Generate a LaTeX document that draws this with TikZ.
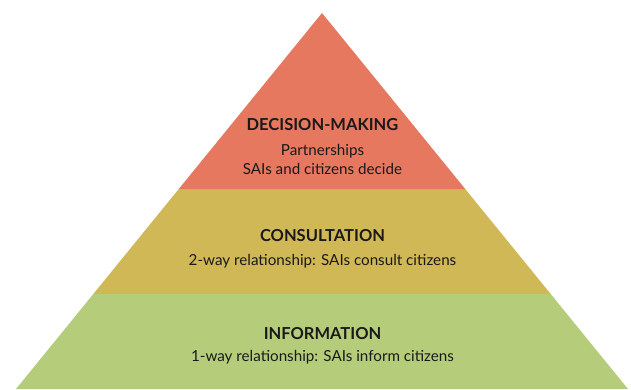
\documentclass[tikz,border=0pt]{standalone}
\usepackage{fontspec}
\setmainfont{Lato}
\usetikzlibrary{calc}
\definecolor{topband}{HTML}{E5785E}
\definecolor{midband}{HTML}{D1B856}
\definecolor{lowband}{HTML}{B5CD7B}
\definecolor{ink}{HTML}{1A1A1A}
\tikzset{
  band/.style={draw=none},
  heading/.style={anchor=base, inner sep=0pt, text=ink, font=\fontsize{16.5}{19}\selectfont\bfseries},
  caption/.style={anchor=base, inner sep=0pt, text=ink, font=\fontsize{15.2}{18}\selectfont}
}
\begin{document}
\begin{tikzpicture}[x=1pt, y=-1pt]
  \useasboundingbox (0,0) rectangle (631,389);
  % outline of the pyramid
  \coordinate (apex) at (322,13);
  \coordinate (bl) at (16,389);
  \coordinate (br) at (628,389);
  % band boundaries along the two sides
  \coordinate (l1) at ($(apex)!0.4681!(bl)$);
  \coordinate (r1) at ($(apex)!0.4681!(br)$);
  \coordinate (l2) at ($(apex)!0.7473!(bl)$);
  \coordinate (r2) at ($(apex)!0.7473!(br)$);
  % bands
  \fill[band, lowband] (l2) -- (r2) -- (br) -- (bl) -- cycle;
  \fill[band, midband] (l1) -- (r1) -- (r2) -- (l2) -- cycle;
  \fill[band, topband] (apex) -- (r1) -- (l1) -- cycle;
  % labels
  \node[heading] (dm) at (322.5,130.7) {DECISION-MAKING};
  \node[caption] (dm1) at (322.5,155) {Partnerships};
  \node[caption] (dm2) at (322.5,174) {SAIs and citizens decide};
  \node[heading] (co) at (322.5,241) {CONSULTATION};
  \node[caption] (co1) at (322.5,265) {2-way relationship: SAIs consult citizens};
  \node[heading] (in) at (322.5,339) {INFORMATION};
  \node[caption] (in1) at (322.5,361) {1-way relationship: SAIs inform citizens};
\end{tikzpicture}
\end{document}
